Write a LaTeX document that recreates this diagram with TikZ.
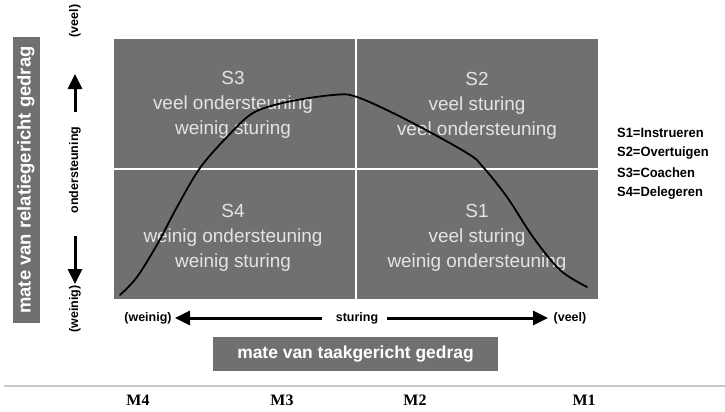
\documentclass[tikz,border=0pt]{standalone}
\usepackage{fontspec}
\setmainfont{Liberation Sans}
\newfontfamily\serifM{Liberation Serif}
\usetikzlibrary{arrows.meta}
\definecolor{boxgray}{RGB}{112,112,112}
\definecolor{txtlight}{RGB}{228,228,228}
\definecolor{rulegray}{RGB}{200,200,200}
\begin{document}
\begin{tikzpicture}[x=1bp,y=-1bp,
  quad/.style={draw=white, line width=2bp, fill=boxgray, minimum width=243bp, minimum height=131bp, inner sep=0pt, anchor=north west},
  quadtxt/.style={text=txtlight, font=\fontsize{19}{25}\selectfont, align=center},
  lbl/.style={font=\bfseries\fontsize{12.5}{14}\selectfont, inner sep=0pt},
  legend/.style={font=\bfseries\fontsize{13.5}{15}\selectfont, anchor=west, inner sep=0pt, xscale=0.96},
  mlbl/.style={font=\serifM\bfseries\fontsize{16}{18}\selectfont},
  graybox/.style={fill=boxgray, text=white, inner sep=0pt},
  bigarrow/.style={line width=3bp, -{Triangle[length=15bp,width=14bp]}},
]
\useasboundingbox (0,0) rectangle (725,411);
% quadrants
\node[quad] (q3) at (112,37) {};
\node[quad] (q2) at (355,37) {};
\node[quad] (q4) at (112,168) {};
\node[quad] (q1) at (355,168) {};
\node[quadtxt] (t3) at (233,105) {S3\\veel ondersteuning\\weinig sturing};
\node[quadtxt] (t2) at (477,106) {S2\\veel sturing\\veel ondersteuning};
\node[quadtxt] (t4) at (233,238) {S4\\weinig ondersteuning\\weinig sturing};
\node[quadtxt] (t1) at (477,238) {S1\\veel sturing\\weinig ondersteuning};
% curve
\draw[line width=1.8bp, line cap=round] plot[smooth, tension=0.55] coordinates {
 (120,295) (137,277) (158,243) (177,207) (200,168) (227,137) (253,113) (287,102)
 (333,95) (357,97) (407,120) (467,153) (483,167) (507,197) (533,237) (560,270) (587,287)};
% left label box
\node[graybox, rotate=90, minimum width=286bp, minimum height=27bp, font=\bfseries\fontsize{18.5}{20}\selectfont] (ybox) at (26,180) {mate van relatiegericht gedrag};
% vertical axis
\node[lbl, rotate=90] (veel1) at (75,21) {(veel)};
\node[lbl, rotate=90] (onder) at (75,170) {ondersteuning};
\node[lbl, rotate=90] (wein1) at (75,309) {(weinig)};
\coordinate (upTail) at (75,112);
\coordinate (upTip) at (75,74);
\coordinate (dnTail) at (75,236);
\coordinate (dnTip) at (75,284);
\draw[bigarrow] (upTail) -- (upTip);
\draw[bigarrow] (dnTail) -- (dnTip);
% horizontal axis
\node[lbl] (wein2) at (148,318) {(weinig)};
\node[lbl] (stur) at (357,318) {sturing};
\node[lbl] (veel2) at (570,318) {(veel)};
\coordinate (lTail) at (322,318);
\coordinate (lTip) at (175,318);
\coordinate (rTail) at (387,318);
\coordinate (rTip) at (548,318);
\draw[bigarrow] (lTail) -- (lTip);
\draw[bigarrow] (rTail) -- (rTip);
\node[graybox, minimum width=285bp, minimum height=34bp, font=\bfseries\fontsize{17.5}{20}\selectfont] (xbox) at (355.5,354) {mate van taakgericht gedrag};
% legend
\node[legend] (l1) at (617,133) {S1=Instrueren};
\node[legend] (l2) at (617,153) {S2=Overtuigen};
\node[legend] (l3) at (617,173) {S3=Coachen};
\node[legend] (l4) at (617,193) {S4=Delegeren};
% rule and M labels
\coordinate (ruleL) at (4,386);
\coordinate (ruleR) at (725,386);
\draw[rulegray, line width=1.5bp] (ruleL) -- (ruleR);
\node[mlbl] (m4) at (138,400) {M4};
\node[mlbl] (m3) at (282,400) {M3};
\node[mlbl] (m2) at (415,400) {M2};
\node[mlbl] (m1) at (584,400) {M1};
\end{tikzpicture}
\end{document}
